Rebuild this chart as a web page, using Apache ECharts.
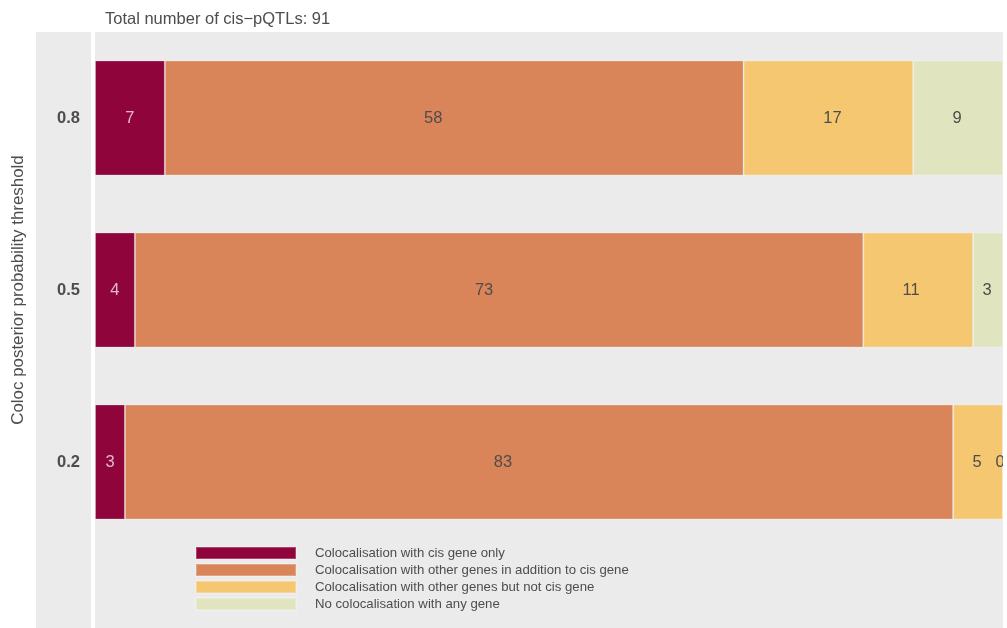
<!DOCTYPE html>
<html>
<head>
<meta charset="utf-8">
<script src="https://cdn.jsdelivr.net/npm/echarts@6/dist/echarts.min.js"></script>
<style>
  html, body { margin: 0; padding: 0; background: #fff; }
  #chart { width: 1007px; height: 628px; }
</style>
</head>
<body>
<div id="chart"></div>
<script>
// しきい値（y軸のカテゴリー）
const thresholds = ['0.8', '0.5', '0.2'];

// 系列ごとの値（thresholdsと同じ順）
const cisOnly = [7, 4, 3];
const otherPlusCis = [58, 73, 83];
const otherNotCis = [17, 11, 5];
const noColoc = [9, 3, 0];

const seriesNames = [
  'Colocalisation with cis gene only',
  'Colocalisation with other genes in addition to cis gene',
  'Colocalisation with other genes but not cis gene',
  'No colocalisation with any gene'
];
const seriesData = [cisOnly, otherPlusCis, otherNotCis, noColoc];
const totalPqtls = 91;

// 元の図ではラベルが中央から少しずれているので、その分だけ横にずらす（px）
const labelNudge = [
  [0, 0, 0],
  [-21, -15, -36],
  [4, -7, -1],
  [-1, -1, -3]
];

const colors = ['#8f043b', '#d98459', '#f6c771', '#e0e5bf'];
const font = 'Liberation Sans, Arial, sans-serif';

const series = seriesNames.map((name, i) => ({
  name: name,
  type: 'bar',
  stack: 'total',
  barWidth: 115,
  data: seriesData[i].map((v, j) => ({
    value: v,
    label: { offset: [labelNudge[i][j], 0] }
  })),
  itemStyle: {
    color: colors[i],
    borderColor: 'rgba(255,255,255,0.25)',
    borderWidth: 1
  },
  label: {
    show: true,
    position: 'inside',
    fontFamily: font,
    fontSize: 16.5,
    color: i === 0 ? 'rgba(255,255,255,0.72)' : '#4d4d4d'
  }
}));

const chart = echarts.init(document.getElementById('chart'));

chart.setOption({
  animation: false,
  textStyle: { fontFamily: font },
  title: {
    text: 'Total number of cis\u2212pQTLs: ' + totalPqtls,
    left: 105,
    top: 11,
    padding: 0,
    textStyle: { fontFamily: font, fontSize: 16.5, fontWeight: 'normal', color: '#4d4d4d' }
  },
  legend: {
    orient: 'vertical',
    left: 195,
    top: 546,
    padding: 0,
    icon: 'rect',
    itemWidth: 100,
    itemHeight: 12,
    itemGap: 3,
    selectedMode: false,
    data: seriesNames,
    textStyle: {
      fontFamily: font,
      fontSize: 13.2,
      lineHeight: 14,
      color: '#4d4d4d',
      padding: [0, 0, 0, 14]
    }
  },
  grid: {
    left: 95,
    right: 4,
    top: 32,
    height: 516
  },
  xAxis: {
    type: 'value',
    min: 0,
    max: totalPqtls,
    show: false
  },
  yAxis: {
    type: 'category',
    data: thresholds,
    inverse: true,
    axisLine: { show: false },
    axisTick: { show: false },
    axisLabel: {
      margin: 15,
      fontFamily: font,
      fontSize: 16.5,
      fontWeight: 'bold',
      color: '#4d4d4d'
    },
    name: 'Coloc posterior probability threshold',
    nameLocation: 'middle',
    nameGap: 68,
    nameRotate: 90,
    nameTextStyle: { fontFamily: font, fontSize: 16.9, color: '#4d4d4d' }
  },
  series: series,
  graphic: [
    {
      type: 'rect',
      z: -10,
      silent: true,
      shape: { x: 36, y: 32, width: 55, height: 596 },
      style: { fill: '#ebebeb' }
    },
    {
      type: 'rect',
      z: -10,
      silent: true,
      shape: { x: 95, y: 32, width: 908, height: 596 },
      style: { fill: '#ebebeb' }
    },
    // パネルの右端からはみ出したラベルを隠す白い余白
    {
      type: 'rect',
      z: 100,
      silent: true,
      shape: { x: 1003, y: 0, width: 4, height: 628 },
      style: { fill: '#ffffff' }
    }
  ]
});
</script>
</body>
</html>
